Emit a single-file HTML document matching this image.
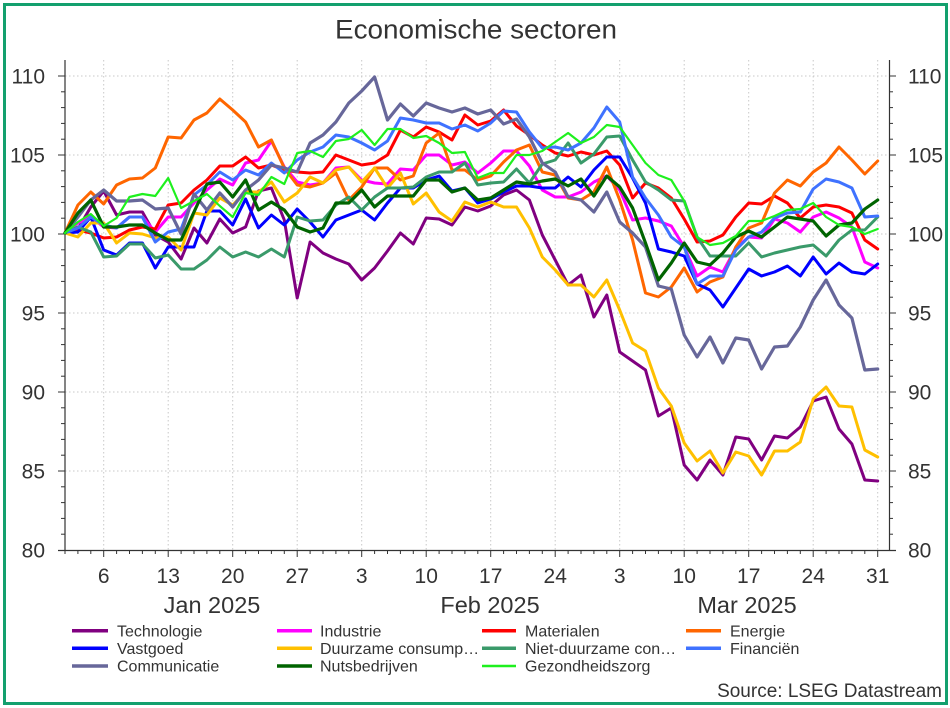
<!DOCTYPE html>
<html>
<head>
<meta charset="utf-8">
<style>
  html, body { margin: 0; padding: 0; background: #ffffff; }
  svg { display: block; }
  text { font-family: "Liberation Sans", "DejaVu Sans", sans-serif; fill: #333333; }
</style>
</head>
<body>
<svg width="950" height="708" viewBox="0 0 950 708" xmlns="http://www.w3.org/2000/svg">
  <rect x="0" y="0" width="950" height="708" fill="#ffffff"/>
  <rect x="4.5" y="4.5" width="942" height="699" fill="none" stroke="#13a06e" stroke-width="3"/>

  <text x="476" y="38.5" font-size="27" text-anchor="middle" textLength="282" lengthAdjust="spacingAndGlyphs">Economische sectoren</text>

  <!-- horizontal grid -->
  <g stroke="#c8c8c8" stroke-width="1" stroke-dasharray="1.5,2.5">
    <line x1="65" y1="76" x2="889" y2="76"/>
    <line x1="65" y1="155" x2="889" y2="155"/>
    <line x1="65" y1="234" x2="889" y2="234"/>
    <line x1="65" y1="313" x2="889" y2="313"/>
    <line x1="65" y1="392" x2="889" y2="392"/>
    <line x1="65" y1="471" x2="889" y2="471"/>
  </g>
  <!-- vertical grid at Mondays -->
  <g stroke="#c8c8c8" stroke-width="1" stroke-dasharray="1.5,2.5">
    <line x1="103.7" y1="60" x2="103.7" y2="550"/>
    <line x1="168.2" y1="60" x2="168.2" y2="550"/>
    <line x1="232.7" y1="60" x2="232.7" y2="550"/>
    <line x1="297.2" y1="60" x2="297.2" y2="550"/>
    <line x1="361.7" y1="60" x2="361.7" y2="550"/>
    <line x1="426.2" y1="60" x2="426.2" y2="550"/>
    <line x1="490.7" y1="60" x2="490.7" y2="550"/>
    <line x1="555.2" y1="60" x2="555.2" y2="550"/>
    <line x1="619.7" y1="60" x2="619.7" y2="550"/>
    <line x1="684.2" y1="60" x2="684.2" y2="550"/>
    <line x1="748.7" y1="60" x2="748.7" y2="550"/>
    <line x1="813.2" y1="60" x2="813.2" y2="550"/>
    <line x1="877.7" y1="60" x2="877.7" y2="550"/>
  </g>

  <!-- axes -->
  <g stroke="#333333" stroke-width="1.2" fill="none">
    <line x1="65" y1="60" x2="65" y2="551"/>
    <line x1="889.5" y1="60" x2="889.5" y2="551"/>
    <line x1="58" y1="550.5" x2="896" y2="550.5"/>
  </g>
  <!-- left ticks -->
  <g stroke="#333333" stroke-width="1">
    <line x1="58" y1="76" x2="65" y2="76"/><line x1="58" y1="155" x2="65" y2="155"/><line x1="58" y1="234" x2="65" y2="234"/><line x1="58" y1="313" x2="65" y2="313"/><line x1="58" y1="392" x2="65" y2="392"/><line x1="58" y1="471" x2="65" y2="471"/>
    <line x1="61" y1="91.8" x2="65" y2="91.8"/><line x1="61" y1="107.6" x2="65" y2="107.6"/><line x1="61" y1="123.4" x2="65" y2="123.4"/><line x1="61" y1="139.2" x2="65" y2="139.2"/>
    <line x1="61" y1="170.8" x2="65" y2="170.8"/><line x1="61" y1="186.6" x2="65" y2="186.6"/><line x1="61" y1="202.4" x2="65" y2="202.4"/><line x1="61" y1="218.2" x2="65" y2="218.2"/>
    <line x1="61" y1="249.8" x2="65" y2="249.8"/><line x1="61" y1="265.6" x2="65" y2="265.6"/><line x1="61" y1="281.4" x2="65" y2="281.4"/><line x1="61" y1="297.2" x2="65" y2="297.2"/>
    <line x1="61" y1="328.8" x2="65" y2="328.8"/><line x1="61" y1="344.6" x2="65" y2="344.6"/><line x1="61" y1="360.4" x2="65" y2="360.4"/><line x1="61" y1="376.2" x2="65" y2="376.2"/>
    <line x1="61" y1="407.8" x2="65" y2="407.8"/><line x1="61" y1="423.6" x2="65" y2="423.6"/><line x1="61" y1="439.4" x2="65" y2="439.4"/><line x1="61" y1="455.2" x2="65" y2="455.2"/>
    <line x1="61" y1="486.8" x2="65" y2="486.8"/><line x1="61" y1="502.6" x2="65" y2="502.6"/><line x1="61" y1="518.4" x2="65" y2="518.4"/><line x1="61" y1="534.2" x2="65" y2="534.2"/>
  </g>
  <!-- right ticks -->
  <g stroke="#333333" stroke-width="1">
    <line x1="889.5" y1="76" x2="896" y2="76"/><line x1="889.5" y1="155" x2="896" y2="155"/><line x1="889.5" y1="234" x2="896" y2="234"/><line x1="889.5" y1="313" x2="896" y2="313"/><line x1="889.5" y1="392" x2="896" y2="392"/><line x1="889.5" y1="471" x2="896" y2="471"/>
    <line x1="889.5" y1="91.8" x2="893" y2="91.8"/><line x1="889.5" y1="107.6" x2="893" y2="107.6"/><line x1="889.5" y1="123.4" x2="893" y2="123.4"/><line x1="889.5" y1="139.2" x2="893" y2="139.2"/>
    <line x1="889.5" y1="170.8" x2="893" y2="170.8"/><line x1="889.5" y1="186.6" x2="893" y2="186.6"/><line x1="889.5" y1="202.4" x2="893" y2="202.4"/><line x1="889.5" y1="218.2" x2="893" y2="218.2"/>
    <line x1="889.5" y1="249.8" x2="893" y2="249.8"/><line x1="889.5" y1="265.6" x2="893" y2="265.6"/><line x1="889.5" y1="281.4" x2="893" y2="281.4"/><line x1="889.5" y1="297.2" x2="893" y2="297.2"/>
    <line x1="889.5" y1="328.8" x2="893" y2="328.8"/><line x1="889.5" y1="344.6" x2="893" y2="344.6"/><line x1="889.5" y1="360.4" x2="893" y2="360.4"/><line x1="889.5" y1="376.2" x2="893" y2="376.2"/>
    <line x1="889.5" y1="407.8" x2="893" y2="407.8"/><line x1="889.5" y1="423.6" x2="893" y2="423.6"/><line x1="889.5" y1="439.4" x2="893" y2="439.4"/><line x1="889.5" y1="455.2" x2="893" y2="455.2"/>
    <line x1="889.5" y1="486.8" x2="893" y2="486.8"/><line x1="889.5" y1="502.6" x2="893" y2="502.6"/><line x1="889.5" y1="518.4" x2="893" y2="518.4"/><line x1="889.5" y1="534.2" x2="893" y2="534.2"/>
  </g>
  <!-- bottom ticks: minor each trading day, major Mondays -->
  <g stroke="#333333" stroke-width="1">
    <line x1="65" y1="550" x2="65" y2="554"/><line x1="77.9" y1="550" x2="77.9" y2="554"/><line x1="90.8" y1="550" x2="90.8" y2="554"/><line x1="116.6" y1="550" x2="116.6" y2="554"/><line x1="129.5" y1="550" x2="129.5" y2="554"/><line x1="142.4" y1="550" x2="142.4" y2="554"/><line x1="155.3" y1="550" x2="155.3" y2="554"/>
    <line x1="181.1" y1="550" x2="181.1" y2="554"/><line x1="194" y1="550" x2="194" y2="554"/><line x1="206.9" y1="550" x2="206.9" y2="554"/><line x1="219.8" y1="550" x2="219.8" y2="554"/>
    <line x1="245.6" y1="550" x2="245.6" y2="554"/><line x1="258.5" y1="550" x2="258.5" y2="554"/><line x1="271.4" y1="550" x2="271.4" y2="554"/><line x1="284.3" y1="550" x2="284.3" y2="554"/>
    <line x1="310.1" y1="550" x2="310.1" y2="554"/><line x1="323" y1="550" x2="323" y2="554"/><line x1="335.9" y1="550" x2="335.9" y2="554"/><line x1="348.8" y1="550" x2="348.8" y2="554"/>
    <line x1="374.6" y1="550" x2="374.6" y2="554"/><line x1="387.5" y1="550" x2="387.5" y2="554"/><line x1="400.4" y1="550" x2="400.4" y2="554"/><line x1="413.3" y1="550" x2="413.3" y2="554"/>
    <line x1="439.1" y1="550" x2="439.1" y2="554"/><line x1="452" y1="550" x2="452" y2="554"/><line x1="464.9" y1="550" x2="464.9" y2="554"/><line x1="477.8" y1="550" x2="477.8" y2="554"/>
    <line x1="503.6" y1="550" x2="503.6" y2="554"/><line x1="516.5" y1="550" x2="516.5" y2="554"/><line x1="529.4" y1="550" x2="529.4" y2="554"/><line x1="542.3" y1="550" x2="542.3" y2="554"/>
    <line x1="568.1" y1="550" x2="568.1" y2="554"/><line x1="581" y1="550" x2="581" y2="554"/><line x1="593.9" y1="550" x2="593.9" y2="554"/><line x1="606.8" y1="550" x2="606.8" y2="554"/>
    <line x1="632.6" y1="550" x2="632.6" y2="554"/><line x1="645.5" y1="550" x2="645.5" y2="554"/><line x1="658.4" y1="550" x2="658.4" y2="554"/><line x1="671.3" y1="550" x2="671.3" y2="554"/>
    <line x1="697.1" y1="550" x2="697.1" y2="554"/><line x1="710" y1="550" x2="710" y2="554"/><line x1="722.9" y1="550" x2="722.9" y2="554"/><line x1="735.8" y1="550" x2="735.8" y2="554"/>
    <line x1="761.6" y1="550" x2="761.6" y2="554"/><line x1="774.5" y1="550" x2="774.5" y2="554"/><line x1="787.4" y1="550" x2="787.4" y2="554"/><line x1="800.3" y1="550" x2="800.3" y2="554"/>
    <line x1="826.1" y1="550" x2="826.1" y2="554"/><line x1="839" y1="550" x2="839" y2="554"/><line x1="851.9" y1="550" x2="851.9" y2="554"/><line x1="864.8" y1="550" x2="864.8" y2="554"/>
    <line x1="103.7" y1="550" x2="103.7" y2="557"/><line x1="168.2" y1="550" x2="168.2" y2="557"/><line x1="232.7" y1="550" x2="232.7" y2="557"/><line x1="297.2" y1="550" x2="297.2" y2="557"/>
    <line x1="361.7" y1="550" x2="361.7" y2="557"/><line x1="426.2" y1="550" x2="426.2" y2="557"/><line x1="490.7" y1="550" x2="490.7" y2="557"/><line x1="555.2" y1="550" x2="555.2" y2="557"/>
    <line x1="619.7" y1="550" x2="619.7" y2="557"/><line x1="684.2" y1="550" x2="684.2" y2="557"/><line x1="748.7" y1="550" x2="748.7" y2="557"/><line x1="813.2" y1="550" x2="813.2" y2="557"/>
    <line x1="877.7" y1="550" x2="877.7" y2="557"/>
  </g>

  <!-- y labels -->
  <g font-size="21" text-anchor="end">
    <text x="45" y="83.5">110</text>
    <text x="45" y="162.5">105</text>
    <text x="45" y="241.5">100</text>
    <text x="45" y="320.5">95</text>
    <text x="45" y="399.5">90</text>
    <text x="45" y="478.5">85</text>
    <text x="45" y="557.5">80</text>
  </g>
  <g font-size="21" text-anchor="start">
    <text x="908" y="83.5">110</text>
    <text x="908" y="162.5">105</text>
    <text x="908" y="241.5">100</text>
    <text x="908" y="320.5">95</text>
    <text x="908" y="399.5">90</text>
    <text x="908" y="478.5">85</text>
    <text x="908" y="557.5">80</text>
  </g>
  <!-- x labels -->
  <g font-size="21" text-anchor="middle">
    <text x="103.7" y="583">6</text>
    <text x="168.2" y="583">13</text>
    <text x="232.7" y="583">20</text>
    <text x="297.2" y="583">27</text>
    <text x="361.7" y="583">3</text>
    <text x="426.2" y="583">10</text>
    <text x="490.7" y="583">17</text>
    <text x="555.2" y="583">24</text>
    <text x="619.7" y="583">3</text>
    <text x="684.2" y="583">10</text>
    <text x="748.7" y="583">17</text>
    <text x="813.2" y="583">24</text>
    <text x="877.7" y="583">31</text>
  </g>
  <g font-size="23.5" text-anchor="middle">
    <text x="212" y="613">Jan 2025</text>
    <text x="490" y="613">Feb 2025</text>
    <text x="747" y="613">Mar 2025</text>
  </g>

  <!-- series -->
  <g transform="translate(65,0) scale(12.9,1)" fill="none" stroke-linejoin="round" stroke-linecap="round">
    <polyline vector-effect="non-scaling-stroke" stroke="#800080" stroke-width="3" points="0,233 1,229 2,207 3,191 4,215 5,212 6,212 7,235 8,242 9,259 10,228 11,243 12,219 13,233 14,227 15,191 16,188 17,220 18,298 19,242 20,253 21,259 22,264 23,280 24,268 25,251 26,233 27,244 28,218 29,219 30,225 31,207 32,211 33,206 34,195 35,190 36,200 37,235 38,260 39,285 40,275 41,317 42,295 43,352 44,361 45,370 46,416 47,408 48,465 49,480 50,460 51,475 52,437 53,439 54,460 55,436 56,438 57,427 58,401 59,397 60,429 61,444 62,480 63,481"/>
    <polyline vector-effect="non-scaling-stroke" stroke="#ff00ff" stroke-width="3" points="0,233 1,223 2,217 3,227 4,228 5,217 6,217 7,232 8,217 9,217 10,203 11,190 12,179 13,185 14,163 15,160 16,141 17,167 18,182 19,185 20,183 21,168 22,167 23,180 24,183 25,184 26,169 27,170 28,155 29,155 30,165 31,162 32,173 33,163 34,151 35,151 36,166 37,190 38,197 39,197 40,192 41,182 42,176 43,190 44,220 45,218 46,221 47,226 48,247 49,276 50,267 51,272 52,248 53,237 54,238 55,219 56,223 57,232 58,217 59,212 60,218 61,227 62,262 63,268"/>
    <polyline vector-effect="non-scaling-stroke" stroke="#ff0000" stroke-width="3" points="0,233 1,230 2,233 3,238 4,237 5,230 6,227 7,229 8,205 9,203 10,190 11,180 12,166 13,166 14,157 15,168 16,165 17,170 18,172 19,173 20,172 21,155 22,160 23,165 24,163 25,155 26,130 27,137 28,127 29,132 30,140 31,115 32,125 33,121 34,110 35,126 36,135 37,145 38,153 39,156 40,152 41,155 42,151 43,165 44,198 45,183 46,188 47,198 48,219 49,242 50,241 51,235 52,217 53,203 54,204 55,196 56,203 57,218 58,207 59,205 60,207 61,213 62,240 63,249"/>
    <polyline vector-effect="non-scaling-stroke" stroke="#ff6600" stroke-width="3" points="0,233 1,205 2,192 3,204 4,185 5,179 6,178 7,168 8,137 9,138 10,120 11,113 12,99 13,110 14,122 15,147 16,140 17,168 18,185 19,187 20,183 21,173 22,200 23,187 24,168 25,168 26,180 27,176 28,143 29,133 30,170 31,170 32,180 33,176 34,162 35,150 36,145 37,172 38,175 39,198 40,200 41,192 42,167 43,200 44,240 45,293 46,297 47,287 48,268 49,292 50,282 51,277 52,247 53,228 54,223 55,193 56,180 57,186 58,172 59,163 60,147 61,160 62,174 63,161"/>
    <polyline vector-effect="non-scaling-stroke" stroke="#0000ff" stroke-width="3" points="0,233 1,232 2,217 3,250 4,255 5,243 6,243 7,268 8,247 9,247 10,247 11,211 12,211 13,225 14,199 15,228 16,215 17,225 18,209 19,222 20,237 21,220 22,215 23,210 24,220 25,203 26,188 27,188 28,180 29,176 30,191 31,188 32,203 33,199 34,192 35,186 36,186 37,188 38,188 39,177 40,187 41,170 42,157 43,157 44,178 45,203 46,249 47,252 48,256 49,284 50,290 51,307 52,288 53,269 54,276 55,272 56,266 57,276 58,257 59,274 60,263 61,272 62,274 63,264"/>
    <polyline vector-effect="non-scaling-stroke" stroke="#ffc000" stroke-width="3" points="0,233 1,237 2,223 3,223 4,243 5,233 6,234 7,238 8,237 9,250 10,213 11,215 12,198 13,205 14,192 15,192 16,182 17,202 18,193 19,177 20,183 21,170 22,167 23,182 24,168 25,188 26,173 27,204 28,193 29,212 30,221 31,202 32,207 33,202 34,207 35,207 36,228 37,257 38,270 39,285 40,285 41,297 42,280 43,310 44,343 45,351 46,388 47,406 48,443 49,461 50,451 51,473 52,452 53,456 54,475 55,451 56,451 57,442 58,399 59,387 60,406 61,407 62,450 63,457"/>
    <polyline vector-effect="non-scaling-stroke" stroke="#3a9a6a" stroke-width="3" points="0,233 1,227 2,232 3,257 4,256 5,244 6,244 7,258 8,255 9,269 10,269 11,260 12,247 13,257 14,252 15,257 16,249 17,257 18,217 19,221 20,220 21,205 22,197 23,210 24,197 25,188 26,188 27,187 28,177 29,172 30,172 31,163 32,185 33,183 34,182 35,169 36,183 37,164 38,160 39,143 40,163 41,154 42,137 43,136 44,160 45,182 46,190 47,200 48,201 49,237 50,256 51,256 52,256 53,243 54,257 55,253 56,250 57,247 58,245 59,256 60,240 61,230 62,230 63,217"/>
    <polyline vector-effect="non-scaling-stroke" stroke="#3f72ff" stroke-width="3" points="0,233 1,228 2,217 3,225 4,228 5,217 6,217 7,242 8,232 9,229 10,195 11,185 12,172 13,180 14,170 15,175 16,163 17,173 18,160 19,152 20,147 21,135 22,137 23,143 24,150 25,141 26,118 27,120 28,123 29,123 30,129 31,125 32,131 33,123 34,111 35,112 36,132 37,148 38,147 39,150 40,143 41,128 42,107 43,122 44,177 45,198 46,215 47,237 48,247 49,284 50,276 51,276 52,250 53,237 54,232 55,218 56,213 57,212 58,189 59,179 60,182 61,188 62,217 63,216"/>
    <polyline vector-effect="non-scaling-stroke" stroke="#67679a" stroke-width="3.2" points="0,233 1,217 2,200 3,190 4,201 5,201 6,200 7,209 8,208 9,234 10,194 11,210 12,193 13,207 14,190 15,180 16,165 17,168 18,172 19,143 20,135 21,122 22,103 23,91 24,77 25,120 26,104 27,116 28,103 29,108 30,112 31,108 32,114 33,110 34,124 35,119 36,137 37,163 38,172 39,197 40,200 41,212 42,192 43,222 44,233 45,247 46,286 47,289 48,335 49,357 50,337 51,363 52,338 53,340 54,369 55,347 56,346 57,327 58,300 59,280 60,305 61,318 62,370 63,369"/>
    <polyline vector-effect="non-scaling-stroke" stroke="#006400" stroke-width="3.2" points="0,233 1,213 2,200 3,227 4,227 5,225 6,225 7,233 8,240 9,240 10,212 11,184 12,182 13,197 14,180 15,210 16,202 17,210 18,227 19,232 20,228 21,203 22,203 23,190 24,207 25,196 26,196 27,196 28,180 29,180 30,192 31,188 32,200 33,198 34,190 35,182 36,184 37,181 38,179 39,186 40,179 41,196 42,176 43,187 44,208 45,243 46,280 47,263 48,243 49,262 50,265 51,253 52,237 53,231 54,237 55,227 56,217 57,219 58,221 59,236 60,225 61,223 62,209 63,200"/>
    <polyline vector-effect="non-scaling-stroke" stroke="#1ef01e" stroke-width="2.2" points="0,233 1,222 2,214 3,226 4,218 5,197 6,194 7,196 8,178 9,208 10,201 11,194 12,206 13,217 14,193 15,195 16,177 17,184 18,153 19,151 20,157 21,141 22,139 23,130 24,145 25,129 26,129 27,138 28,136 29,143 30,153 31,152 32,178 33,173 34,173 35,155 36,155 37,151 38,142 39,133 40,143 41,137 42,125 43,127 44,145 45,163 46,175 47,180 48,201 49,237 50,245 51,243 52,236 53,221 54,221 55,216 56,210 57,209 58,203 59,217 60,225 61,227 62,234 63,229"/>
  </g>

  <!-- legend -->
  <g stroke-width="3.5" fill="none">
    <line x1="72" y1="630.7" x2="108" y2="630.7" stroke="#800080"/>
    <line x1="277" y1="630.7" x2="312" y2="630.7" stroke="#ff00ff"/>
    <line x1="482" y1="630.7" x2="516" y2="630.7" stroke="#ff0000"/>
    <line x1="686" y1="630.7" x2="721" y2="630.7" stroke="#ff6600"/>
    <line x1="72" y1="648.3" x2="108" y2="648.3" stroke="#0000ff"/>
    <line x1="277" y1="648.3" x2="312" y2="648.3" stroke="#ffc000"/>
    <line x1="482" y1="648.3" x2="516" y2="648.3" stroke="#3a9a6a"/>
    <line x1="686" y1="648.3" x2="721" y2="648.3" stroke="#3f72ff"/>
    <line x1="72" y1="666" x2="108" y2="666" stroke="#67679a"/>
    <line x1="277" y1="666" x2="312" y2="666" stroke="#006400"/>
    <line x1="482" y1="666" x2="516" y2="666" stroke="#1ef01e" stroke-width="2.5"/>
  </g>
  <g font-size="16">
    <text x="117" y="636.5">Technologie</text>
    <text x="320" y="636.5">Industrie</text>
    <text x="525" y="636.5">Materialen</text>
    <text x="730" y="636.5">Energie</text>
    <text x="117" y="654">Vastgoed</text>
    <text x="320" y="654">Duurzame consump…</text>
    <text x="525" y="654">Niet-duurzame con…</text>
    <text x="730" y="654">Financiën</text>
    <text x="117" y="671.5">Communicatie</text>
    <text x="320" y="671.5">Nutsbedrijven</text>
    <text x="525" y="671.5">Gezondheidszorg</text>
  </g>

  <text x="942" y="697" font-size="19" text-anchor="end">Source: LSEG Datastream</text>
</svg>
</body>
</html>
